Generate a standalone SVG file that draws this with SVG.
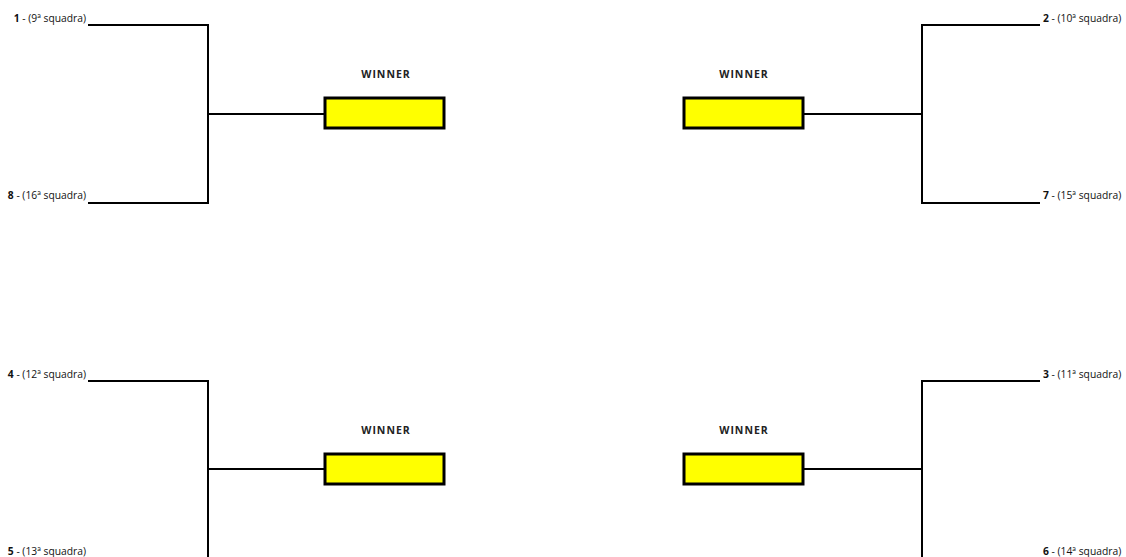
<svg xmlns="http://www.w3.org/2000/svg" width="1126" height="557" viewBox="0 0 1126 557">
<style>
.ln{stroke:#000;stroke-width:2;fill:none}
.box{fill:#ffff00;stroke:#000;stroke-width:3}
.lbl{font-family:"Open Sans","Liberation Sans",sans-serif;font-size:10.3px;fill:#111}
.num{font-weight:bold}
.win{font-family:"Open Sans","Liberation Sans",sans-serif;font-size:10.5px;font-weight:bold;fill:#222;text-anchor:middle;letter-spacing:1px}
</style>
<g id="connectors">
<path class="ln" d="M88,25 H208 V203 H88 M208,114 H325"/>
<path class="ln" d="M1040,25 H922 V203 H1040 M922,114 H803"/>
<path class="ln" d="M88,381 H208 V560 M208,469 H325"/>
<path class="ln" d="M1040,381 H922 V560 M922,469 H803"/>
</g>
<g id="team1"><text class="lbl" x="86" y="22" text-anchor="end"><tspan class="num">1</tspan> - (9ª squadra)</text></g>
<g id="team8"><text class="lbl" x="86" y="199" text-anchor="end"><tspan class="num">8</tspan> - (16ª squadra)</text></g>
<g id="team4"><text class="lbl" x="86" y="378" text-anchor="end"><tspan class="num">4</tspan> - (12ª squadra)</text></g>
<g id="team5"><text class="lbl" x="86" y="555" text-anchor="end"><tspan class="num">5</tspan> - (13ª squadra)</text></g>
<g id="team2"><text class="lbl" x="1043" y="22"><tspan class="num">2</tspan> - (10ª squadra)</text></g>
<g id="team7"><text class="lbl" x="1043" y="199"><tspan class="num">7</tspan> - (15ª squadra)</text></g>
<g id="team3"><text class="lbl" x="1043" y="378"><tspan class="num">3</tspan> - (11ª squadra)</text></g>
<g id="team6"><text class="lbl" x="1043" y="555"><tspan class="num">6</tspan> - (14ª squadra)</text></g>
<g id="winner-tl"><text class="win" x="386" y="78">WINNER</text><rect class="box" x="325" y="98" width="119" height="30"/></g>
<g id="winner-tr"><text class="win" x="744" y="78">WINNER</text><rect class="box" x="684" y="98" width="119" height="30"/></g>
<g id="winner-bl"><text class="win" x="386" y="434">WINNER</text><rect class="box" x="325" y="454" width="119" height="30"/></g>
<g id="winner-br"><text class="win" x="744" y="434">WINNER</text><rect class="box" x="684" y="454" width="119" height="30"/></g>
</svg>
